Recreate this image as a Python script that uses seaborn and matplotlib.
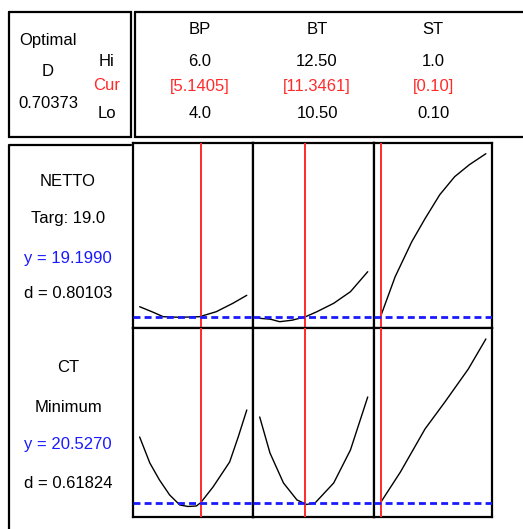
import matplotlib
matplotlib.use("Agg")
import matplotlib.pyplot as plt
import matplotlib.font_manager as fm
import seaborn as sns
import pandas as pd

# ---------------- data ----------------
factors = ["BP", "BT", "ST"]
hi_labels = ["6.0", "12.50", "1.0"]
cur_labels = ["[5.1405]", "[11.3461]", "[0.10]"]
lo_labels = ["4.0", "10.50", "0.10"]
lo = [4.0, 10.5, 0.10]
hi = [6.0, 12.5, 1.0]
cur = [5.1405, 11.3461, 0.10]

responses = ["NETTO", "CT"]
goals = ["Targ: 19.0", "Minimum"]
y_cur = [19.1990, 20.5270]
d_vals = ["0.80103", "0.61824"]
D_val = "0.70373"

netto_bp_x = [4.0, 4.25, 4.44, 4.75, 5.12, 5.43, 5.74, 6.0]
netto_bp_y = [20.2, 19.65, 19.2, 19.14, 19.2, 19.7, 20.54, 21.34]
netto_bt_x = [10.5, 10.7, 10.87, 11.1, 11.35, 11.56, 11.87, 12.18, 12.5]
netto_bt_y = [19.04, 18.95, 18.70, 18.85, 19.20, 19.70, 20.54, 21.70, 23.70]
netto_st_x = [0.10, 0.225, 0.367, 0.48, 0.606, 0.733, 0.859, 1.0]
netto_st_y = [19.20, 23.2, 26.7, 29.0, 31.4, 33.2, 34.4, 35.5]

ct_bp_x = [4.0, 4.19, 4.37, 4.56, 4.75, 4.9, 5.06, 5.14, 5.37, 5.68, 5.84, 6.0]
ct_bp_y = [27.1, 24.5, 22.8, 21.3, 20.3, 20.15, 20.2, 20.53, 22.1, 24.6, 27.1, 29.8]
ct_bt_x = [10.5, 10.69, 10.94, 11.19, 11.37, 11.53, 11.87, 12.18, 12.5]
ct_bt_y = [29.1, 25.5, 22.5, 20.8, 20.35, 20.53, 22.5, 25.8, 31.1]
ct_st_x = [0.10, 0.27, 0.48, 0.65, 0.85, 1.0]
ct_st_y = [20.53, 23.6, 27.9, 30.6, 33.9, 36.9]

curves = [
    [(netto_bp_x, netto_bp_y), (netto_bt_x, netto_bt_y), (netto_st_x, netto_st_y)],
    [(ct_bp_x, ct_bp_y), (ct_bt_x, ct_bt_y), (ct_st_x, ct_st_y)],
]
row_ylim = [(18.07, 36.57), (19.097, 37.997)]

# ---------------- style ----------------
sns.set_style("white")
avail = {f.name for f in fm.fontManager.ttflist}
if "Liberation Sans Narrow" in avail:
    FAM, FS = "Liberation Sans Narrow", 13.5
elif "DejaVu Sans Condensed" in avail:
    FAM, FS = "DejaVu Sans Condensed", 12
else:
    FAM, FS = "Liberation Sans", 12
plt.rcParams["font.family"] = [FAM, "DejaVu Sans"]
plt.rcParams["text.color"] = "black"

W, H = 523, 529
fig = plt.figure(figsize=(W / 100, H / 100), dpi=100)
fig.patch.set_facecolor("white")

RED = "#ff2a2a"
BLUE = "#1a1aff"

ov = fig.add_axes([0, 0, 1, 1])
ov.set_xlim(0, W)
ov.set_ylim(H, 0)
ov.axis("off")
ov.set_zorder(0)

def box(x0, y0, x1, y1):
    ov.plot([x0, x1, x1, x0, x0], [y0, y0, y1, y1, y0], color="black", lw=1.6,
            solid_joinstyle="miter", clip_on=False)

box(9, 12, 131, 137)
box(135, 12, 530, 137)
# left label column frame
ov.plot([131, 9, 9], [145, 145, 540], color="black", lw=1.6, clip_on=False)

tk = dict(ha="center", va="center", fontsize=FS, color="black")
tkc = dict(ha="center", va="center", fontsize=FS)
ov.text(48, 41, "Optimal", **tk)
ov.text(48, 72, "D", **tk)
ov.text(48, 103, D_val, **tk)
ov.text(107, 62, "Hi", **tk)
ov.text(107, 86, "Cur", color=RED, **tkc)
ov.text(107, 114, "Lo", **tk)

head_x = [200, 317, 433]
for i in range(3):
    ov.text(head_x[i], 30, factors[i], **tk)
    ov.text(head_x[i], 61, hi_labels[i], **tk)
    ov.text(head_x[i], 86, cur_labels[i], color=RED, **tkc)
    ov.text(head_x[i], 114, lo_labels[i], **tk)

row_text_y = [[182, 218, 258, 293], [368, 407, 445, 483]]
for r in range(2):
    ys = row_text_y[r]
    ov.text(68, ys[0], responses[r], **tk)
    ov.text(68, ys[1], goals[r], **tk)
    ov.text(68, ys[2], "y = %.4f" % y_cur[r], color=BLUE, **tkc)
    ov.text(68, ys[3], "d = " + d_vals[r], **tk)

# ---------------- panels ----------------
col_px = [(133, 253), (253, 374), (374, 492)]
row_px = [(143, 328), (328, 517)]

for r in range(2):
    for c in range(3):
        x0, x1 = col_px[c]
        y0, y1 = row_px[r]
        ax = fig.add_axes([x0 / W, 1 - y1 / H, (x1 - x0) / W, (y1 - y0) / H])
        ax.set_zorder(1)
        ax.set_facecolor("white")
        xs, ys = curves[r][c]
        df = pd.DataFrame({"x": xs, "y": ys})
        sns.lineplot(data=df, x="x", y="y", ax=ax, color="black", lw=1.0,
                     sort=False, estimator=None)
        rng = hi[c] - lo[c]
        ax.set_xlim(lo[c] - 0.062 * rng, hi[c] + 0.058 * rng)
        ax.set_ylim(*row_ylim[r])
        ax.axvline(cur[c], color=RED, lw=1.4, zorder=3)
        ax.axhline(y_cur[r], color=BLUE, lw=2.0, ls=(0, (2.5, 1.5)), zorder=4)
        ax.set_xticks([])
        ax.set_yticks([])
        ax.set_xlabel("")
        ax.set_ylabel("")
        for s in ax.spines.values():
            s.set_color("black")
            s.set_linewidth(1.6)

fig.savefig("out.png", dpi=100, facecolor="white")
